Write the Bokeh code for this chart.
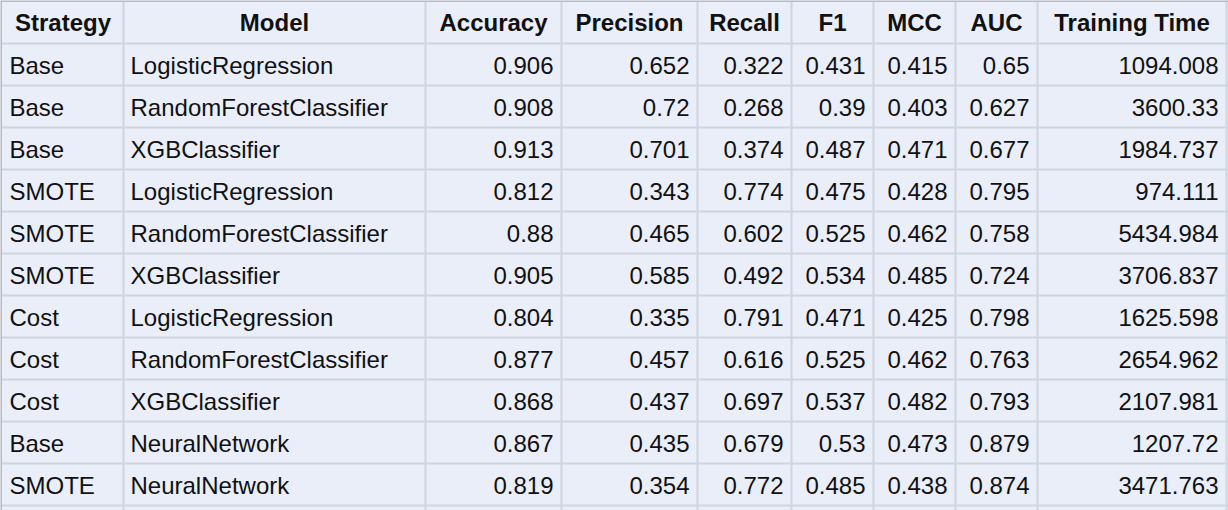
from bokeh.plotting import figure
from bokeh.models import Range1d, ColumnDataSource
from bokeh.core.properties import value
from bokeh.embed import file_html
from bokeh.resources import INLINE

headers = ["Strategy", "Model", "Accuracy", "Precision", "Recall", "F1", "MCC", "AUC", "Training Time"]
strategy = ["Base", "Base", "Base", "SMOTE", "SMOTE", "SMOTE", "Cost", "Cost", "Cost", "Base", "SMOTE"]
model = ["LogisticRegression", "RandomForestClassifier", "XGBClassifier",
         "LogisticRegression", "RandomForestClassifier", "XGBClassifier",
         "LogisticRegression", "RandomForestClassifier", "XGBClassifier",
         "NeuralNetwork", "NeuralNetwork"]
accuracy = ["0.906", "0.908", "0.913", "0.812", "0.88", "0.905", "0.804", "0.877", "0.868", "0.867", "0.819"]
precision = ["0.652", "0.72", "0.701", "0.343", "0.465", "0.585", "0.335", "0.457", "0.437", "0.435", "0.354"]
recall = ["0.322", "0.268", "0.374", "0.774", "0.602", "0.492", "0.791", "0.616", "0.697", "0.679", "0.772"]
f1 = ["0.431", "0.39", "0.487", "0.475", "0.525", "0.534", "0.471", "0.525", "0.537", "0.53", "0.485"]
mcc = ["0.415", "0.403", "0.471", "0.428", "0.462", "0.485", "0.425", "0.462", "0.482", "0.473", "0.438"]
auc = ["0.65", "0.627", "0.677", "0.795", "0.758", "0.724", "0.798", "0.763", "0.793", "0.879", "0.874"]
train_time = ["1094.008", "3600.33", "1984.737", "974.111", "5434.984", "3706.837",
              "1625.598", "2654.962", "2107.981", "1207.72", "3471.763"]

columns = [strategy, model, accuracy, precision, recall, f1, mcc, auc, train_time]
edges = [2, 123, 425, 561, 697, 791, 873, 955, 1037, 1226]
row_h = 42
top = 1
W, H = 1228, 510
font = value("Liberation Sans")

p = figure(width=W, height=H, output_backend="svg", toolbar_location=None,
           x_range=Range1d(0, W), y_range=Range1d(H, 0), min_border=0)
p.axis.visible = False
p.grid.visible = False
p.outline_line_color = None
p.background_fill_color = "#e9eef9"
p.border_fill_color = "#e9eef9"

n_rows = len(strategy) + 1
# grid lines
hy = [top + row_h * (i + 1) for i in range(n_rows)]
p.segment(x0=[0] * len(hy), x1=[W] * len(hy), y0=hy, y1=hy, line_color="#cfd5df", line_width=2)
p.segment(x0=edges[1:], x1=edges[1:], y0=[0] * 9, y1=[H] * 9, line_color="#cfd5df", line_width=2)
p.segment(x0=[0], x1=[W], y0=[0.5], y1=[0.5], line_color="#b9bcc2", line_width=2)
p.segment(x0=[0.5], x1=[0.5], y0=[0], y1=[H], line_color="#b9bcc2", line_width=2)

# header
hx = [(edges[i] + edges[i + 1]) / 2 for i in range(len(headers))]
hy_c = [top + row_h / 2] * len(headers)
p.text(x=hx, y=hy_c, text=headers, text_font=font, text_font_style="bold",
       text_font_size="24px", text_align="center", text_baseline="middle", text_color="#111111")

# body
for ci, col in enumerate(columns):
    ys = [top + row_h * (r + 1) + row_h / 2 + 1 for r in range(len(col))]
    if ci < 2:
        xs = [edges[ci] + 7] * len(col)
        align = "left"
    else:
        xs = [edges[ci + 1] - 8] * len(col)
        align = "right"
    src = ColumnDataSource(dict(x=xs, y=ys, t=col))
    p.text(x="x", y="y", text="t", source=src, text_font=font, text_font_size="24px",
           text_align=align, text_baseline="middle", text_color="#111111")

html = file_html(p, INLINE)
html = html.replace("<body>", '<body style="margin:0;overflow:hidden">', 1)
open("out.html", "w").write(html)
